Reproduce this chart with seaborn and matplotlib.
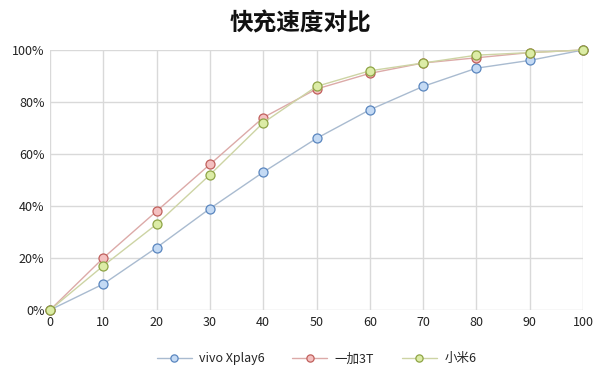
import matplotlib
matplotlib.use("Agg")
import matplotlib.pyplot as plt
import seaborn as sns
import pandas as pd
from matplotlib.ticker import PercentFormatter

minutes = [0, 10, 20, 30, 40, 50, 60, 70, 80, 90, 100]
vivo = [0, 10, 24, 39, 53, 66, 77, 86, 93, 96, 100]
oneplus = [0, 20, 38, 56, 74, 85, 91, 95, 97, 99, 100]
xiaomi = [0, 17, 33, 52, 72, 86, 92, 95, 98, 99, 100]
series_names = ["vivo Xplay6", "一加3T", "小米6"]
title = "快充速度对比"

df = pd.DataFrame({
    "x": minutes * 3,
    "y": vivo + oneplus + xiaomi,
    "s": [series_names[0]] * 11 + [series_names[1]] * 11 + [series_names[2]] * 11,
})

sns.set_theme(style="white")
plt.rcParams['font.family'] = ['Noto Sans CJK SC', 'DejaVu Sans']

fig = plt.figure(figsize=(6.0, 3.68), dpi=100)
ax = fig.add_axes([50/600, 1 - 310/368, 533/600, 260/368])

line_colors = ["#a9bbd0", "#dcaaa8", "#cdd4a4"]
face_colors = ["#c4daf4", "#f4c0c0", "#dcecA6"]
edge_colors = ["#5a86bf", "#c0605c", "#8ea445"]

for i, name in enumerate(series_names):
    sub = df[df.s == name]
    sns.lineplot(data=sub, x="x", y="y", ax=ax, color=line_colors[i], lw=1.0,
                 marker="o", markersize=6.5, markerfacecolor=face_colors[i],
                 markeredgecolor=edge_colors[i], markeredgewidth=0.9,
                 label=name, zorder=3 + i)

ax.set_xlim(0, 100)
ax.set_ylim(0, 100)
ax.set_xticks(minutes)
ax.set_yticks([0, 20, 40, 60, 80, 100])
ax.yaxis.set_major_formatter(PercentFormatter(decimals=0))
ax.grid(True, color="#d9d9d9", lw=1.0)
ax.set_axisbelow(True)
for sp in ax.spines.values():
    sp.set_visible(False)
ax.tick_params(axis="both", labelsize=9, colors="#222222", length=0, pad=4)
ax.set_xlabel("")
ax.set_ylabel("")
for l in ax.lines:
    l.set_clip_on(False)

fig.suptitle(title, y=0.97, fontsize=17, fontweight="bold", color="#111111")

leg = ax.legend(loc="upper center", bbox_to_anchor=(0.5, -0.12), ncol=3, frameon=False,
                fontsize=9, handlelength=2.8, columnspacing=2.2, handletextpad=0.6,
                markerscale=0.8)

fig.savefig("out.png", dpi=100, facecolor="white")
